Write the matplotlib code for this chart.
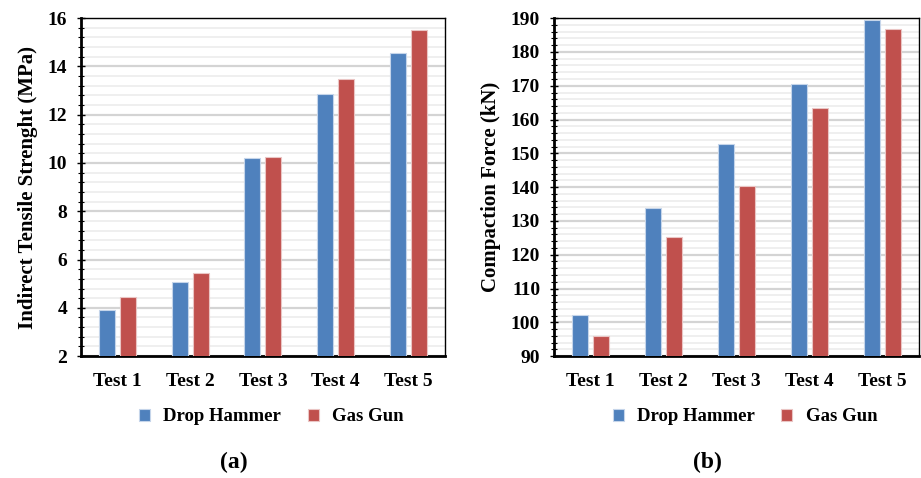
import numpy as np
import matplotlib.pyplot as plt
from matplotlib.ticker import MultipleLocator

plt.rcParams['font.family'] = ['Liberation Serif', 'DejaVu Serif']
plt.rcParams['font.weight'] = 'bold'

# data
tests = ["Test 1", "Test 2", "Test 3", "Test 4", "Test 5"]
series = ["Drop Hammer", "Gas Gun"]
its_drop = [3.9, 5.08, 10.19, 12.87, 14.54]
its_gas = [4.46, 5.43, 10.24, 13.47, 15.49]
force_drop = [102.2, 133.9, 152.8, 170.5, 189.4]
force_gas = [95.9, 125.1, 140.2, 163.4, 186.9]

blue = "#4F81BD"
red = "#C0504D"

fig = plt.figure(figsize=(9.21, 4.78), dpi=100)
ax1 = fig.add_axes([0.088, 0.255, 0.395, 0.707])
ax2 = fig.add_axes([0.6015, 0.255, 0.3965, 0.707])

x = np.arange(len(tests))
w = 0.22
off = 0.145


def draw(ax, a, b, ylim, major, minor, ylabel, tag):
    ax.bar(x - off, a, w, color=blue, edgecolor="#c5d5ea", linewidth=0.8,
           label=series[0], zorder=3)
    ax.bar(x + off, b, w, color=red, edgecolor="#eac5c4", linewidth=0.8,
           label=series[1], zorder=3)
    ax.set_xlim(-0.5, len(tests) - 0.5)
    ax.set_ylim(*ylim)
    ax.yaxis.set_major_locator(MultipleLocator(major))
    ax.yaxis.set_minor_locator(MultipleLocator(minor))
    ax.grid(which="major", axis="y", color="#d4d4d4", linewidth=1.6, zorder=0)
    ax.grid(which="minor", axis="y", color="#ececec", linewidth=1.2, zorder=0)
    ax.set_axisbelow(True)
    for s in ax.spines.values():
        s.set_color("black")
        s.set_linewidth(1.0)
    ax.spines["left"].set_linewidth(2.0)
    ax.spines["bottom"].set_linewidth(2.0)
    ax.set_xticks(x)
    ax.set_xticklabels(tests, fontsize=14, fontweight="bold")
    ax.tick_params(axis="x", length=0, pad=12)
    ax.tick_params(axis="y", which="major", direction="inout", length=6,
                   width=1.0, labelsize=14, pad=7)
    ax.tick_params(axis="y", which="minor", direction="inout", length=5,
                   width=0.8)
    for t in ax.get_yticklabels():
        t.set_fontweight("bold")
    ax.set_ylabel(ylabel, fontsize=15, fontweight="bold", labelpad=7)
    ax.legend(loc="upper center", bbox_to_anchor=(0.523, -0.105), ncol=2,
              frameon=False, fontsize=13.5, handlelength=0.6,
              handleheight=0.6, columnspacing=1.4, handletextpad=0.7)
    ax.text(0.42, -0.315, tag, transform=ax.transAxes, ha="center",
            va="center", fontsize=17, fontweight="bold")


draw(ax1, its_drop, its_gas, (2, 16), 2, 0.4,
     "Indirect Tensile Strenght (MPa)", "(a)")
draw(ax2, force_drop, force_gas, (90, 190), 10, 2,
     "Compaction Force (kN)", "(b)")

fig.savefig("out.png", dpi=100)
